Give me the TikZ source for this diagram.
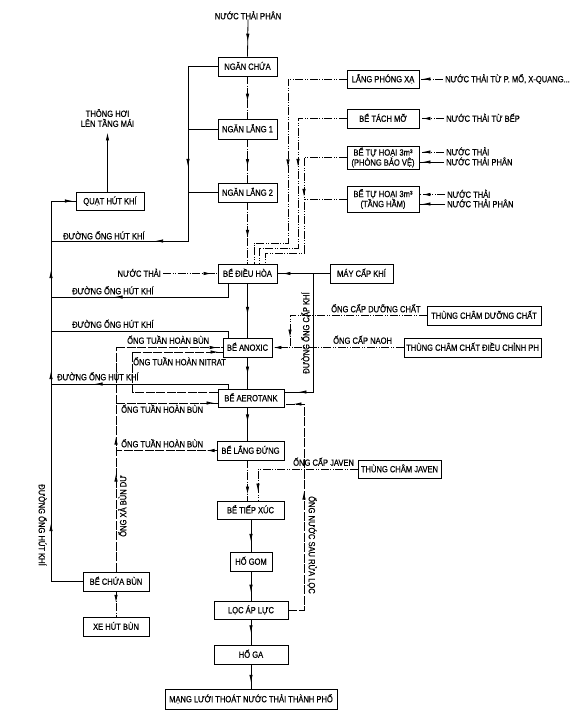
\documentclass[tikz,border=0pt]{standalone}
\usepackage{fontspec}
\setmainfont{Liberation Sans}[FakeStretch=0.84, FakeBold=0.5]
\usetikzlibrary{arrows.meta}
\usetikzlibrary{decorations.markings}

\tikzset{
    tank/.style={draw, line width=0.9pt, minimum height=19pt, inner sep=1pt,
                 text height=6.5pt, text depth=0pt, font=\fontsize{9}{10.5}\selectfont},
    tanktwo/.style={draw, line width=0.9pt, inner sep=1pt, align=center,
                 font=\fontsize{9}{10}\selectfont},
    lbl/.style={inner sep=0pt, text height=6.5pt, text depth=0pt, font=\fontsize{9}{10.5}\selectfont},
    pipe/.style={draw=black, line width=0.8pt},
    dashpipe/.style={pipe, dash pattern=on 8pt off 1.5pt on 1pt off 1.5pt},
    dotpipe/.style={pipe, dash pattern=on 8pt off 1.5pt on 1pt off 1.5pt on 1pt off 1.5pt},
    sludgepipe/.style={pipe, dash pattern=on 9pt off 1.5pt},
    arrowat/.style={postaction={decorate, decoration={markings,
        mark=at position #1 with {\arrow{Latex[length=8pt,width=3.4pt]}}}}}
}

\begin{document}
\begin{tikzpicture}[x=1pt, y=-1pt]
    \useasboundingbox (0,0) rectangle (579,723);

    % tanks, use the tuple for location
    \begin{scope}[every node/.style={tank}]
    \node[minimum width=59pt] (chua) at (247.5,66.5) {NGĂN CHỨA};
    \node[minimum width=59pt, minimum height=20pt] (lang1) at (247.5,129) {NGĂN LẮNG 1};
    \node[minimum width=59pt] (lang2) at (247.5,192.5) {NGĂN LẮNG 2};
    \node[minimum width=59pt] (dieuhoa) at (247.5,273.5) {BỂ ĐIỀU HÒA};
    \node[minimum width=49pt] (anoxic) at (247.5,347.5) {BỂ ANOXIC};
    \node[minimum width=66pt, minimum height=18pt] (aerotank) at (251,398) {BỂ AEROTANK};
    \node[minimum width=67pt] (langdung) at (250.5,450.5) {BỂ LẮNG ĐỨNG};
    \node[minimum width=67pt, minimum height=18pt] (tiepxuc) at (250.5,510) {BỂ TIẾP XÚC};
    \node[minimum width=42pt] (hogom) at (251,561.5) {HỐ GOM};
    \node[minimum width=74pt, minimum height=18pt] (loc) at (251,610) {LỌC ÁP LỰC};
    \node[minimum width=74pt] (hoga) at (251,654.5) {HỐ GA};
    \node[minimum width=172pt, minimum height=20pt] (mang) at (251,699) {MẠNG LƯỚI THOÁT NƯỚC THẢI THÀNH PHỐ};
    \node[minimum width=68pt, minimum height=18pt] (quat) at (110,201) {QUẠT HÚT KHÍ};
    \node[minimum width=66pt] (chuabun) at (116,581.5) {BỂ CHỨA BÙN};
    \node[minimum width=66pt] (xehut) at (116,626.5) {XE HÚT BÙN};
    \node[minimum width=63pt] (maykhi) at (361.5,273.5) {MÁY CẤP KHÍ};
    \node[minimum width=114pt] (thungdc) at (484,315.5) {THÙNG CHÂM DƯỠNG CHẤT};
    \node[minimum width=137pt] (thungph) at (472.5,347.5) {THÙNG CHÂM CHẤT ĐIỀU CHỈNH PH};
    \node[minimum width=83pt, minimum height=18pt] (javen) at (399.5,469) {THÙNG CHÂM JAVEN};
    \node[minimum width=72pt, minimum height=18pt] (phongxa) at (383,79) {LẮNG PHÓNG XẠ};
    \node[minimum width=72pt] (tachmo) at (383,118.5) {BỂ TÁCH MỠ};
    \end{scope}
    \node[tanktwo, minimum width=72pt, minimum height=23pt] (thoai1) at (383,157.5) {BỂ TỰ HOẠI 3m³\\(PHÒNG BẢO VỆ)};
    \node[tanktwo, minimum width=72pt, minimum height=26pt] (thoai2) at (383,199) {BỂ TỰ HOẠI 3m³\\(TẦNG HẦM)};

    % texts
    \begin{scope}[every node/.style={lbl}]
    \node (inphan) at (248,16) {NƯỚC THẢI PHÂN};
    \node[anchor=west] (inpx) at (445,79) {NƯỚC THẢI TỪ P. MỔ, X-QUANG...};
    \node[anchor=west] (inbep) at (446,118.5) {NƯỚC THẢI TỪ BẾP};
    \node[anchor=west] (inbv1) at (446,152) {NƯỚC THẢI};
    \node[anchor=west] (inbv2) at (446,162) {NƯỚC THẢI PHÂN};
    \node[anchor=west] (inth1) at (447,194.5) {NƯỚC THẢI};
    \node[anchor=west] (inth2) at (447,204) {NƯỚC THẢI PHÂN};
    \node[anchor=east] (indh) at (161,273.5) {NƯỚC THẢI};
    \node[anchor=west] at (63,236) {ĐƯỜNG ỐNG HÚT KHÍ};
    \node[anchor=west] at (72,291) {ĐƯỜNG ỐNG HÚT KHÍ};
    \node[anchor=west] at (72,324.5) {ĐƯỜNG ỐNG HÚT KHÍ};
    \node[anchor=west] at (57,377) {ĐƯỜNG ỐNG HÚT KHÍ};
    \node[anchor=west] at (127,340.5) {ỐNG TUẦN HOÀN BÙN};
    \node[anchor=west] at (133,362) {ỐNG TUẦN HOÀN NITRAT};
    \node[anchor=west] at (121,409.5) {ỐNG TUẦN HOÀN BÙN};
    \node[anchor=west] at (121,444) {ỐNG TUẦN HOÀN BÙN};
    \node[anchor=west] at (331,309) {ỐNG CẤP DƯỠNG CHẤT};
    \node[anchor=west] at (333,340.5) {ỐNG CẤP NAOH};
    \node[anchor=west] at (293,462.5) {ỐNG CẤP JAVEN};
    \node[rotate=-90] at (42,525) {ĐƯỜNG ỐNG HÚT KHÍ};
    \node[rotate=90] at (123,506) {ỐNG XẢ BÙN DƯ};
    \node[rotate=90] at (306,333) {ĐƯỜNG ỐNG CẤP KHÍ};
    \node[rotate=-90] at (312,545) {ỐNG NƯỚC SAU RỬA LỌC};
    \end{scope}
    \node[tanktwo, draw=none, inner sep=0pt] (thonghoi) at (107.5,118) {THÔNG HƠI\\LÊN TẦNG MÁI};

    % junctions
    \coordinate (hutbend) at (188,241);
    \coordinate (hutend) at (51,241);
    \coordinate (leftbot) at (51,581.5);
    \coordinate (hut1) at (51,297);
    \coordinate (hut2) at (51,331);
    \coordinate (hut3) at (51,384);
    \coordinate (bunA) at (116,347.5);
    \coordinate (bunB) at (116,403);
    \coordinate (bunC) at (116,450.5);
    \coordinate (nitA) at (132,392);
    \coordinate (nitB) at (132,352);
    \coordinate (khiA) at (313,273.5);
    \coordinate (khiB) at (313,392);
    \coordinate (naohj) at (290,347.5);
    \coordinate (rua) at (304,404);
    \coordinate (pxA) at (288,243);
    \coordinate (pxB) at (298,248);
    \coordinate (pxC) at (304,253);

    % main line
    \draw[pipe, arrowat=0.6] (inphan.south) -- (chua.north);
    \draw[dashpipe, arrowat=0.6] (chua) -- (lang1);
    \draw[dashpipe, arrowat=0.64] (lang1) -- (lang2);
    \draw[dashpipe, arrowat=0.58] (lang2) -- (dieuhoa);
    \draw[pipe, arrowat=0.58] (dieuhoa) -- (anoxic);
    \draw[pipe, arrowat=0.55] (anoxic.south) -- (anoxic.south |- aerotank.north);
    \draw[pipe, arrowat=0.45] (aerotank.south -| chua) -- (langdung.north -| chua);
    \draw[dashpipe, arrowat=0.85] (langdung.south -| chua) -- (tiepxuc.north -| chua);
    \draw[pipe, arrowat=0.7] (tiepxuc.south -| hogom) -- (hogom.north);
    \draw[pipe, arrowat=0.73] (hogom) -- (loc);
    \draw[pipe, arrowat=0.55] (loc) -- (hoga);
    \draw[pipe, arrowat=0.76] (hoga) -- (mang);
    \draw[dashpipe, arrowat=0.45] (chuabun) -- (xehut);

    % air suction
    \draw[pipe, arrowat=130pt, arrowat=237pt] (chua.west) -| (hutbend) -- (hutend);
    \draw[pipe] (lang1.west) -- (lang1.west -| hutbend);
    \draw[pipe] (lang2.west) -- (lang2.west -| hutbend);
    \draw[pipe, arrowat=90pt, arrowat=242pt, arrowat=343pt, arrowat=434pt] (chuabun.west) -- (leftbot) |- (quat.west);
    \draw[pipe, -{Latex[length=8pt,width=3.4pt]}] (thonghoi.south |- quat.north) -- ([yshift=-5pt]thonghoi.south);
    \draw[pipe, arrowat=127pt] ([xshift=-19.5pt]dieuhoa.south) |- (hut1);
    \draw[pipe] ([xshift=-19.5pt]anoxic.north) |- (hut2);
    \draw[pipe, arrowat=138pt] ([xshift=-23pt]aerotank.north) |- (hut3);

    % sludge and nitrate return
    \draw[sludgepipe, arrowat=98pt, arrowat=135pt] (chuabun.north) -- (bunA);
    \draw[sludgepipe, arrowat=-5pt] (bunA) -- (anoxic.west);
    \draw[sludgepipe, arrowat=-3pt] (bunB) -- (bunB -| aerotank.west);
    \draw[sludgepipe, arrowat=10pt] (langdung.west) -- (bunC);
    \draw[sludgepipe, arrowat=-4pt] ([yshift=6pt]aerotank.west) -- (nitA) -- (nitB) -- (nitB -| anoxic.west);

    % air supply
    \draw[pipe, arrowat=-5pt] (maykhi) -- (dieuhoa);
    \draw[pipe, arrowat=-14pt] (khiA) -- (khiB) -- (khiB -| aerotank.east);

    % chemicals
    \draw[dotpipe, arrowat=-10pt] (thungdc.west) -| (naohj);
    \draw[dotpipe, arrowat=-1pt] (thungph) -- (anoxic);
    \draw[dotpipe, arrowat=-9pt] (javen.west) -| ([xshift=7.5pt]tiepxuc.north);

    % backwash water
    \draw[sludgepipe, arrowat=134pt, arrowat=-9pt] (loc.east) -| (rua) -- (rua -| aerotank.east);

    % building inflows
    \draw[dotpipe, arrowat=147pt] (phongxa.west) -| (pxA) -| ([xshift=6.5pt]dieuhoa.north);
    \draw[dotpipe, arrowat=97pt] (tachmo.west) -| (pxB) -| ([xshift=11.5pt]dieuhoa.north);
    \draw[dotpipe, arrowat=82pt] (thoai1.west) -| (pxC) -| ([xshift=17.5pt]dieuhoa.north);
    \draw[dotpipe] (thoai2.west) -- (thoai2.west -| pxC);
    \draw[dotpipe, arrowat=-3pt, shorten <=2pt] (inpx.west) -- (phongxa.east);
    \draw[dotpipe, arrowat=-3pt, shorten <=2pt] (inbep.west) -- (tachmo.east);
    \draw[dotpipe, arrowat=-3pt, shorten <=2pt] (inbv1.west) -- (inbv1.west -| thoai1.east);
    \draw[pipe, arrowat=-3pt, shorten <=2pt] (inbv2.west) -- (inbv2.west -| thoai1.east);
    \draw[dotpipe, arrowat=-3pt, shorten <=2pt] (inth1.west) -- (inth1.west -| thoai2.east);
    \draw[pipe, arrowat=-3pt, shorten <=2pt] (inth2.west) -- (inth2.west -| thoai2.east);
    \draw[dotpipe, arrowat=-6pt, shorten <=2pt] (indh) -- (dieuhoa);

\end{tikzpicture}
\end{document}
